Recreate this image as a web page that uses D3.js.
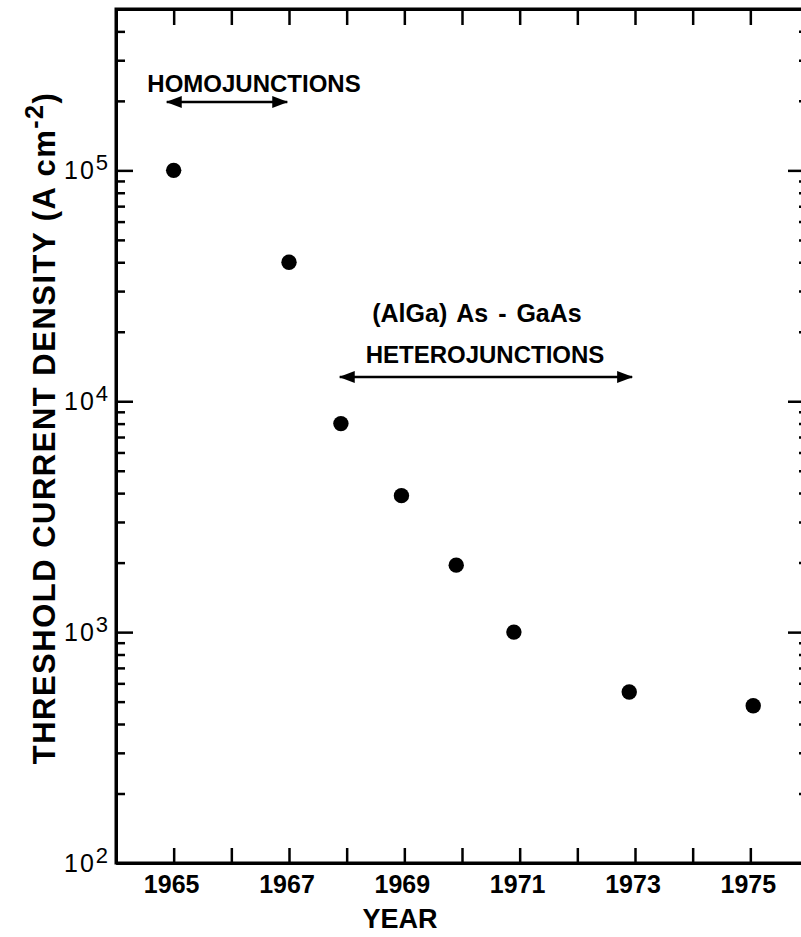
<!DOCTYPE html>
<html>
<head>
<meta charset="utf-8">
<script src="https://cdn.jsdelivr.net/npm/d3@7"></script>
<style>
  html, body { margin: 0; padding: 0; background: #fff; }
  svg { display: block; }
  text { font-family: "Liberation Sans", Arial, sans-serif; font-weight: bold; fill: #000; }
</style>
</head>
<body>
<svg id="chart" width="801" height="937"></svg>
<script>
// ---- data ----
const years = [1965, 1967, 1967.9, 1968.95, 1969.9, 1970.9, 1972.9, 1975.05];
const thresholdDensity = [100000, 40000, 8000, 3900, 1950, 1000, 550, 480];
const yearTicks = [1965, 1966, 1967, 1968, 1969, 1970, 1971, 1972, 1973, 1974, 1975];
const yearLabels = [1965, 1967, 1969, 1971, 1973, 1975];
const decadeTicks = [100, 1000, 10000, 100000];
const decadeExponents = ["2", "3", "4", "5"];
const xDomain = [1964, 1976];
const yDomain = [100, 500000];

(function () {
const svg = d3.select("#chart");
const pLeft = 116, pRight = 808, pTop = 9, pBottom = 863;

const x = d3.scaleLinear().domain(xDomain).range([pLeft, pRight]);
const y = d3.scaleLog().domain(yDomain).range([pBottom, pTop]);

const minorTicks = y.ticks().filter(v => !decadeTicks.includes(v));

function styleAxis(g) {
  g.select(".domain").attr("stroke", "#000").attr("stroke-width", 3);
  g.selectAll(".tick line").attr("stroke", "#000").attr("stroke-width", 2.5);
  g.selectAll(".tick text").remove();
}

// frame lines
svg.append("rect")
  .attr("x", pLeft).attr("y", pTop)
  .attr("width", pRight - pLeft).attr("height", pBottom - pTop)
  .attr("fill", "none").attr("stroke", "#000").attr("stroke-width", 3);

// x axes (ticks inward)
svg.append("g").attr("transform", `translate(0,${pBottom})`)
  .call(d3.axisBottom(x).tickValues(yearTicks).tickSizeInner(-15).tickSizeOuter(0).tickFormat(""))
  .call(styleAxis);
svg.append("g").attr("transform", `translate(0,${pTop})`)
  .call(d3.axisTop(x).tickValues(yearTicks).tickSizeInner(-16).tickSizeOuter(0).tickFormat(""))
  .call(styleAxis);

// y axes: minor and major ticks, inward
svg.append("g").attr("transform", `translate(${pLeft},0)`)
  .call(d3.axisLeft(y).tickValues(minorTicks).tickSizeInner(-9).tickSizeOuter(0).tickFormat(""))
  .call(styleAxis);
svg.append("g").attr("transform", `translate(${pLeft},0)`)
  .call(d3.axisLeft(y).tickValues(decadeTicks).tickSizeInner(-17).tickSizeOuter(0).tickFormat(""))
  .call(styleAxis);
svg.append("g").attr("transform", `translate(${pRight},0)`)
  .call(d3.axisRight(y).tickValues(minorTicks).tickSizeInner(-9).tickSizeOuter(0).tickFormat(""))
  .call(styleAxis);
svg.append("g").attr("transform", `translate(${pRight},0)`)
  .call(d3.axisRight(y).tickValues(decadeTicks).tickSizeInner(-20).tickSizeOuter(0).tickFormat(""))
  .call(styleAxis);

// x tick labels
svg.append("g").selectAll("text").data(yearLabels).join("text")
  .attr("x", d => x(d) - 2)
  .attr("y", 893)
  .attr("text-anchor", "middle")
  .attr("font-size", 25)
  .text(d => d);

// y tick labels 10^n
const yl = svg.append("g").selectAll("text").data(decadeTicks).join("text")
  .attr("x", 64)
  .attr("y", d => y(d) + 9)
  .attr("font-size", 25)
  .attr("font-weight", "normal")
  .style("font-weight", "normal");
yl.append("tspan").attr("letter-spacing", 2).text("10");
yl.append("tspan").attr("dy", -9).attr("font-size", 22)
  .text((d, i) => decadeExponents[i]);

// axis titles
svg.append("text")
  .attr("x", 400).attr("y", 928)
  .attr("text-anchor", "middle")
  .attr("font-size", 27)
  .text("YEAR");

const yt = svg.append("text")
  .attr("transform", "translate(55,428) rotate(-90)")
  .attr("text-anchor", "middle")
  .attr("font-size", 31)
  .attr("letter-spacing", 1.5);
yt.append("tspan").text("THRESHOLD CURRENT DENSITY (A cm");
yt.append("tspan").attr("dy", -12).attr("font-size", 25).text("-2");
yt.append("tspan").attr("dy", 12).text(")");

// arrow marker
const defs = svg.append("defs");
defs.append("marker")
  .attr("id", "arrow")
  .attr("viewBox", "0 0 16 12")
  .attr("refX", 15).attr("refY", 6)
  .attr("markerWidth", 16).attr("markerHeight", 12)
  .attr("markerUnits", "userSpaceOnUse")
  .attr("orient", "auto-start-reverse")
  .append("path").attr("d", "M0,0 L16,6 L0,12 Z").attr("fill", "#000");

// annotations
svg.append("text").attr("x", 254).attr("y", 92).attr("text-anchor", "middle")
  .attr("font-size", 24).text("HOMOJUNCTIONS");
svg.append("line")
  .attr("x1", x(1964.88)).attr("x2", x(1966.97))
  .attr("y1", 102).attr("y2", 102)
  .attr("stroke", "#000").attr("stroke-width", 2.5)
  .attr("marker-start", "url(#arrow)").attr("marker-end", "url(#arrow)");

svg.append("text").attr("x", 477).attr("y", 322).attr("text-anchor", "middle")
  .attr("font-size", 25).attr("word-spacing", 3).text("(AlGa) As - GaAs");
svg.append("text").attr("x", 485).attr("y", 363).attr("text-anchor", "middle")
  .attr("font-size", 24).text("HETEROJUNCTIONS");
svg.append("line")
  .attr("x1", x(1967.88)).attr("x2", x(1972.95))
  .attr("y1", 377).attr("y2", 377)
  .attr("stroke", "#000").attr("stroke-width", 2.5)
  .attr("marker-start", "url(#arrow)").attr("marker-end", "url(#arrow)");

// data points
svg.append("g").selectAll("circle").data(years.map((yr, i) => [yr, thresholdDensity[i]]))
  .join("circle")
  .attr("cx", d => x(d[0]))
  .attr("cy", d => y(d[1]))
  .attr("r", 7.7)
  .attr("fill", "#000");
})();
</script>
</body>
</html>
